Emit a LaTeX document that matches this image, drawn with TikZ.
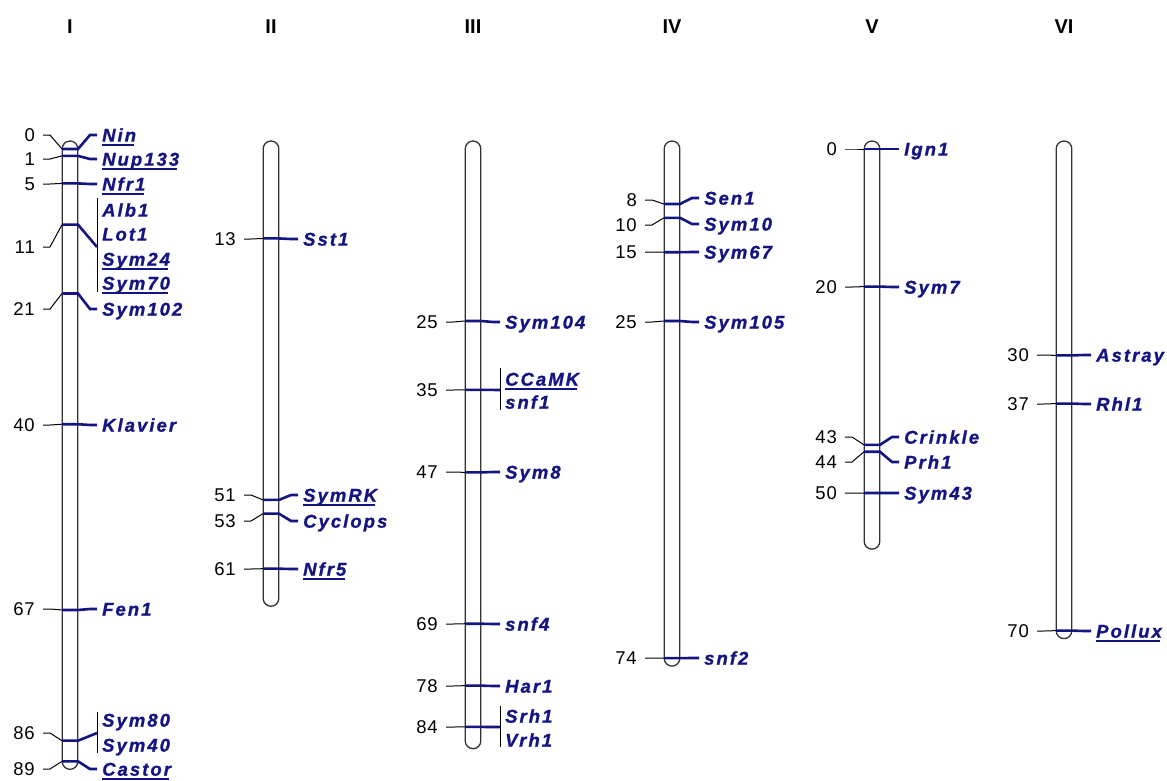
\documentclass[tikz,border=0pt]{standalone}
\usepackage{fontspec}
\setmainfont{Liberation Sans}
\newfontfamily\labfont[LetterSpace=11, BoldItalicFeatures={FakeBold=1}]{Liberation Sans}
\newfontfamily\numfont[LetterSpace=5]{Liberation Sans}
\usetikzlibrary{calc}
\definecolor{navy}{RGB}{20,20,130}
\tikzset{
 chrom/.style={draw=black!80, line width=1.3pt, rounded corners=7.8pt},
 tick/.style={black, line width=1pt},
 mline/.style={navy, line width=2.6pt},
 uline/.style={navy, line width=1.8pt},
 num/.style={inner sep=0pt, font=\numfont\fontsize{18.5}{20}\selectfont, text height=13.2pt, text depth=0pt, anchor=east},
 lab/.style={inner sep=0pt, text=navy, font=\labfont\bfseries\itshape\fontsize{18.5}{20}\selectfont, text height=13.3pt, text depth=0pt, anchor=west},
 title/.style={inner sep=0pt, font=\bfseries\fontsize{20}{22}\selectfont},
}
% chromosome: id, centre x, length (cM), title
\newcommand\chromo[4]{%
 \pgfmathsetmacro\cbot{157+6.88*#3}%
 \draw[chrom] (#2-7.8,141) rectangle (#2+7.8,\cbot);
 \node[title] (#1) at (#2,27) {#4};
}
% single marker: id, cx, cM, number y, number, label y, label
\newcommand\mrk[7]{%
 \pgfmathsetmacro\my{149+6.88*#3}%
 \coordinate (#1a) at (#2-8,\my);
 \coordinate (#1b) at (#2+8,\my);
 \coordinate (#1c) at (#2-20,#4);
 \coordinate (#1d) at (#2+20,#6);
 \node[num] (#1n) at (#2-35,#4) {#5};
 \node[lab] (#1t) at (#2+32,#6) {#7};
 \draw[tick] ($(#1n.east)+(8,0)$) -- (#1c) -- (#1a);
 \draw[mline] (#1a) -- (#1b) -- (#1d) -- ($(#1t.west)+(-5,0)$);
}
% group marker: id, cx, cM, mid y, number, bar top, bar bottom
\newcommand\grp[7]{%
 \pgfmathsetmacro\my{149+6.88*#3}%
 \coordinate (#1a) at (#2-8,\my);
 \coordinate (#1b) at (#2+8,\my);
 \coordinate (#1c) at (#2-20,#4);
 \coordinate (#1m) at (#2+27,#4);
 \coordinate (#1u) at (#2+27,#6);
 \coordinate (#1v) at (#2+27,#7);
 \node[num] (#1n) at (#2-35,#4) {#5};
 \draw[tick] ($(#1n.east)+(8,0)$) -- (#1c) -- (#1a);
 \draw[mline] (#1a) -- (#1b) -- (#1m);
 \draw[tick] (#1u) -- (#1v);
}
\newcommand\ul[1]{\draw[uline] ($(#1.base west)+(0,3.5)$) -- ($(#1.base east)+(-2,3.5)$);}
\begin{document}
\begin{tikzpicture}[x=1pt,y=-1pt]
\useasboundingbox (0,0) rectangle (1167,780);
% chromosomes
\chromo{tI}{70}{89}{I}
\chromo{tII}{271}{65.3}{II}
\chromo{tIII}{473}{86}{III}
\chromo{tIV}{672}{74}{IV}
\chromo{tV}{872}{57}{V}
\chromo{tVI}{1064}{70}{VI}
% I
\mrk{Ia}{70}{0}{135}{0}{135}{Nin} \ul{Iat}
\mrk{Ib}{70}{1}{159}{1}{159}{Nup133} \ul{Ibt}
\mrk{Ic}{70}{5}{184}{5}{184}{Nfr1} \ul{Ict}
\grp{Id}{70}{11}{247}{11}{198}{292}
\node[lab] (Id1) at (102,210) {Alb1};
\node[lab] (Id2) at (102,234) {Lot1};
\node[lab] (Id3) at (102,259) {Sym24}; \ul{Id3}
\node[lab] (Id4) at (102,283) {Sym70}; \ul{Id4}
\mrk{Ie}{70}{21}{309}{21}{309}{Sym102}
\mrk{If}{70}{40}{425}{40}{425}{Klavier}
\mrk{Ig}{70}{67}{609}{67}{609}{Fen1}
\grp{Ih}{70}{86}{733}{86}{712}{753}
\node[lab] (Ih1) at (102,720) {Sym80};
\node[lab] (Ih2) at (102,745) {Sym40};
\mrk{Ii}{70}{89}{769}{89}{769}{Castor} \ul{Iit}
% II
\mrk{IIa}{271}{13}{239}{13}{239}{Sst1}
\mrk{IIb}{271}{51}{495}{51}{495}{SymRK} \ul{IIbt}
\mrk{IIc}{271}{53}{521}{53}{521}{Cyclops}
\mrk{IId}{271}{61}{569}{61}{569}{Nfr5} \ul{IIdt}
% III
\mrk{IIIa}{473}{25}{322}{25}{322}{Sym104}
\grp{IIIb}{473}{35}{390}{35}{368}{410}
\node[lab] (IIIb1) at (505,379) {CCaMK}; \ul{IIIb1}
\node[lab] (IIIb2) at (505,402) {snf1};
\mrk{IIIc}{473}{47}{472}{47}{472}{Sym8}
\mrk{IIId}{473}{69}{624}{69}{624}{snf4}
\mrk{IIIe}{473}{78}{686}{78}{686}{Har1}
\grp{IIIf}{473}{84}{727}{84}{706}{747}
\node[lab] (IIIf1) at (505,716) {Srh1};
\node[lab] (IIIf2) at (505,740) {Vrh1};
% IV
\mrk{IVa}{672}{8}{200}{8}{198}{Sen1}
\mrk{IVb}{672}{10}{225}{10}{224}{Sym10}
\mrk{IVc}{672}{15}{252}{15}{252}{Sym67}
\mrk{IVd}{672}{25}{322}{25}{322}{Sym105}
\mrk{IVe}{672}{74}{658}{74}{658}{snf2}
% V
\mrk{Va}{872}{0}{149}{0}{149}{Ign1}
\mrk{Vb}{872}{20}{287}{20}{287}{Sym7}
\mrk{Vc}{872}{43}{437}{43}{437}{Crinkle}
\mrk{Vd}{872}{44}{462}{44}{462}{Prh1}
\mrk{Ve}{872}{50}{493}{50}{493}{Sym43}
% VI
\mrk{VIa}{1064}{30}{355}{30}{355}{Astray}
\mrk{VIb}{1064}{37}{404}{37}{404}{Rhl1}
\mrk{VIc}{1064}{70}{631}{70}{631}{Pollux} \ul{VIct}
\end{tikzpicture}
\end{document}
